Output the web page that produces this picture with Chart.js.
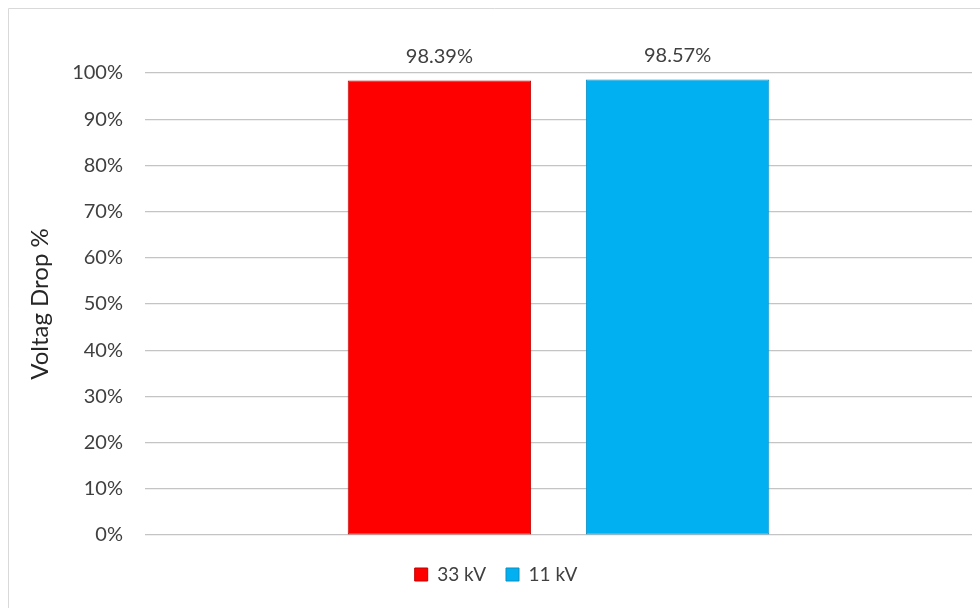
<!DOCTYPE html>
<html>
<head>
<meta charset="utf-8">
<script src="https://cdn.jsdelivr.net/npm/chart.js@4"></script>
<style>
  html, body { margin: 0; padding: 0; background: #fff; }
  #wrap { width: 980px; height: 608px; position: relative; }
</style>
</head>
<body>
<div id="wrap"><canvas id="voltChart"></canvas></div>
<script>
const categories = [''];
const seriesNames = ['33 kV', '11 kV'];
const seriesValues = [[0.9839], [0.9857]];
const seriesColors = ['#FF0000', '#00B0F0'];
const seriesBorders = ['#C00000', '#0A8FC4'];
const yTicks = [0, 0.1, 0.2, 0.3, 0.4, 0.5, 0.6, 0.7, 0.8, 0.9, 1];

const FONT = 'Lato, Calibri, "Liberation Sans", sans-serif';

// ramka wykresu (jak w Excelu)
const framePlugin = {
    id: 'frame',
    beforeDraw(chart) {
        const c = chart.ctx;
        c.save();
        c.fillStyle = '#ffffff';
        c.fillRect(0, 0, chart.width, chart.height);
        c.strokeStyle = '#d9d9d9';
        c.lineWidth = 1;
        c.beginPath();
        c.moveTo(8.5, chart.height);
        c.lineTo(8.5, 8.5);
        c.lineTo(chart.width, 8.5);
        c.stroke();
        c.restore();
    }
};

// etykiety nad słupkami
const labelPlugin = {
    id: 'barLabels',
    afterDatasetsDraw(chart) {
        const c = chart.ctx;
        c.save();
        c.font = '20px ' + FONT;
        c.fillStyle = '#404040';
        c.textAlign = 'center';
        c.textBaseline = 'middle';
        chart.data.datasets.forEach((ds, i) => {
            chart.getDatasetMeta(i).data.forEach((el, j) => {
                c.fillText((ds.data[j] * 100).toFixed(2) + '%', el.x, el.y - 24);
            });
        });
        c.restore();
    }
};

new Chart(document.getElementById('voltChart'), {
    type: 'bar',
    data: {
        labels: categories,
        datasets: seriesNames.map((name, i) => ({
            label: name,
            data: seriesValues[i],
            backgroundColor: seriesColors[i],
            borderColor: seriesBorders[i],
            borderWidth: 1,
            borderSkipped: false,
            categoryPercentage: 0.576,
            barPercentage: 0.77
        }))
    },
    options: {
        responsive: true,
        maintainAspectRatio: false,
        animation: false,
        layout: { padding: { left: 20, right: 8, top: 73, bottom: 14 } },
        plugins: {
            legend: {
                position: 'bottom',
                labels: {
                    boxWidth: 13,
                    boxHeight: 13,
                    padding: 20,
                    color: '#404040',
                    font: { family: FONT, size: 19 }
                }
            },
            tooltip: { enabled: false }
        },
        scales: {
            x: {
                afterFit: s => { s.height = 10; },
                ticks: { display: false },
                grid: { display: false },
                border: { display: false }
            },
            y: {
                min: 0,
                max: 1,
                afterFit: s => { s.width = 125; },
                afterBuildTicks: s => { s.ticks = yTicks.map(v => ({ value: v })); },
                ticks: {
                    padding: 22,
                    color: '#404040',
                    font: { family: FONT, size: 20 },
                    callback: v => Math.round(v * 100) + '%'
                },
                grid: { color: '#c4c4c4', lineWidth: 1.2, drawTicks: false },
                border: { display: false },
                title: {
                    display: true,
                    text: 'Voltag Drop %',
                    color: '#262626',
                    padding: { top: 6, bottom: 0 },
                    font: { family: FONT, size: 24 }
                }
            }
        }
    },
    plugins: [framePlugin, labelPlugin]
});
</script>
</body>
</html>
